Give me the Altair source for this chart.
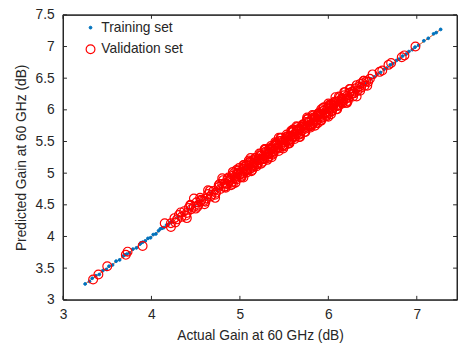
import altair as alt
import pandas as pd

# ---- Validation set (actual, predicted) ----
val_actual = [
    3.34, 3.40, 3.50, 3.71, 3.73, 3.90, 4.15, 4.22, 4.22,
    4.26, 4.29, 4.31, 4.34, 4.37, 4.40, 4.42, 4.45, 4.48, 4.51,
    4.53, 4.56, 4.59, 4.62, 4.64, 4.67, 4.70, 4.73, 4.76, 4.78,
    4.27, 4.33, 4.39, 4.44, 4.50, 4.55, 4.61, 4.66, 4.72, 4.77,
    4.80, 4.82, 4.83, 4.85, 4.86, 4.88, 4.89, 4.91, 4.92, 4.94,
    4.95, 4.97, 4.98, 5.00, 5.01, 5.03, 5.04, 5.06, 5.07, 5.09,
    5.10, 5.12, 5.13, 5.15, 5.16, 5.18, 5.19, 5.21, 5.22, 5.24,
    5.25, 5.27, 5.28, 5.30, 5.31, 5.33, 5.34, 5.36, 5.37, 5.39,
    5.40, 5.42, 5.43, 5.45, 5.46, 5.48, 5.49, 5.51, 5.52, 5.54,
    5.55, 5.57, 5.58, 5.60, 5.61, 5.63, 5.64, 5.66, 5.67, 5.69,
    5.70, 5.72, 5.73, 5.75, 5.76, 5.78, 5.79, 5.81, 5.82, 5.84,
    5.85, 5.87, 5.88, 5.90, 5.91, 5.93, 5.94, 5.96, 5.97, 5.99,
    6.00, 6.02, 6.03, 6.05, 6.06, 6.08, 6.09, 6.11, 6.12, 6.14,
    6.15, 6.17, 6.18, 6.20, 6.21, 6.23, 6.24, 6.26, 6.27, 6.29,
    4.81, 4.84, 4.87, 4.90, 4.93, 4.96, 4.99, 5.02, 5.05, 5.08,
    5.11, 5.14, 5.17, 5.20, 5.23, 5.26, 5.29, 5.32, 5.35, 5.38,
    5.41, 5.44, 5.47, 5.50, 5.53, 5.56, 5.59, 5.62, 5.65, 5.68,
    5.71, 5.74, 5.77, 5.80, 5.83, 5.86, 5.89, 5.92, 5.95, 5.98,
    6.01, 6.04, 6.07, 6.10, 6.13, 6.16, 6.19, 6.22, 6.25, 6.28,
    5.02, 5.05, 5.08, 5.11, 5.14, 5.17, 5.20, 5.23, 5.26, 5.29,
    5.32, 5.35, 5.38, 5.41, 5.44, 5.47, 5.50, 5.53, 5.56, 5.59,
    5.62, 5.65, 5.68, 5.71, 5.74, 5.77, 5.80, 5.83, 5.86, 5.89,
    5.92, 5.95, 5.98, 6.01, 6.04, 6.07, 6.10,
    4.92, 4.95, 4.98, 5.01, 5.04, 5.07, 5.10, 5.13, 5.16, 5.19,
    5.22, 5.25, 5.28, 5.31, 5.34, 5.37, 5.40, 5.43, 5.46, 5.49,
    5.52, 5.55, 5.58, 5.61, 5.64, 5.67, 5.70, 5.73, 5.76, 5.79,
    5.82, 5.85, 5.88, 5.91, 5.94, 5.97, 6.00, 6.03, 6.06, 6.09,
    6.12, 6.15, 6.18, 6.21,
    4.40, 4.44, 4.48, 4.52, 4.56, 4.60, 4.64, 4.68, 4.72, 4.76,
    4.80, 4.84, 4.88, 4.92, 4.96, 5.00, 5.04, 5.08, 5.12, 5.16,
    5.20, 5.24, 5.28, 5.32, 5.36, 5.40, 5.44, 5.48, 5.52, 5.56,
    5.60, 5.64, 5.68, 5.72, 5.76, 5.80, 5.84, 5.88, 5.92, 5.96,
    6.00, 6.04, 6.08, 6.12, 6.16, 6.20, 6.24, 6.28, 6.32, 6.36,
    6.40,
    6.31, 6.33, 6.35, 6.37, 6.39, 6.41, 6.43, 6.45,
    6.32, 6.36, 6.40, 6.44,
    6.47, 6.50, 6.58, 6.61, 6.68, 6.71, 6.83, 6.86, 6.985,
]
val_pred = [
    3.32, 3.40, 3.53, 3.71, 3.76, 3.85, 4.21, 4.15, 4.21,
    4.29, 4.27, 4.34, 4.31, 4.40, 4.37, 4.45, 4.43, 4.47, 4.54,
    4.50, 4.58, 4.56, 4.60, 4.67, 4.63, 4.72, 4.69, 4.78, 4.75,
    4.22, 4.38, 4.33, 4.50, 4.44, 4.61, 4.55, 4.72, 4.66, 4.83,
    4.83, 4.78, 4.84, 4.83, 4.91, 4.87, 4.91, 4.86, 4.96, 4.94,
    4.92, 4.99, 5.04, 4.98, 5.02, 4.99, 5.07, 5.05, 5.12, 5.06,
    5.12, 5.07, 5.17, 5.13, 5.17, 5.24, 5.15, 5.23, 5.21, 5.28,
    5.22, 5.28, 5.23, 5.33, 5.31, 5.38, 5.32, 5.38, 5.33, 5.43,
    5.39, 5.45, 5.40, 5.51, 5.44, 5.49, 5.44, 5.54, 5.51, 5.58,
    5.52, 5.59, 5.54, 5.65, 5.61, 5.61, 5.67, 5.61, 5.68, 5.73,
    5.67, 5.74, 5.72, 5.81, 5.72, 5.80, 5.77, 5.85, 5.77, 5.85,
    5.88, 5.84, 5.93, 5.89, 5.93, 5.89, 5.98, 5.96, 5.95, 6.02,
    5.95, 6.04, 6.08, 6.02, 6.07, 6.06, 6.13, 6.07, 6.14, 6.13,
    6.18, 6.14, 6.23, 6.18, 6.22, 6.19, 6.27, 6.25, 6.29, 6.26,
    4.89, 4.77, 4.93, 4.81, 5.00, 4.90, 5.08, 4.94, 5.13, 5.01,
    5.17, 5.05, 5.24, 5.14, 5.30, 5.18, 5.38, 5.24, 5.43, 5.31,
    5.47, 5.35, 5.56, 5.42, 5.61, 5.50, 5.65, 5.54, 5.73, 5.61,
    5.77, 5.65, 5.86, 5.72, 5.91, 5.79, 5.95, 5.83, 6.04, 5.90,
    6.08, 5.98, 6.13, 6.01, 6.20, 6.10, 6.28, 6.14, 6.33, 6.21,
    4.96, 5.10, 5.04, 5.18, 5.09, 5.21, 5.14, 5.28, 5.22, 5.34,
    5.26, 5.40, 5.34, 5.48, 5.39, 5.51, 5.44, 5.58, 5.52, 5.66,
    5.57, 5.69, 5.62, 5.76, 5.70, 5.81, 5.74, 5.88, 5.82, 5.94,
    5.87, 5.99, 5.92, 6.06, 5.98, 6.11, 6.06,
    5.02, 4.85, 5.01, 4.93, 5.13, 5.04, 5.20, 5.03, 5.19, 5.11,
    5.31, 5.22, 5.38, 5.21, 5.37, 5.29, 5.49, 5.40, 5.56, 5.39,
    5.55, 5.47, 5.67, 5.58, 5.74, 5.57, 5.73, 5.65, 5.85, 5.76,
    5.92, 5.75, 5.91, 5.83, 6.03, 5.94, 6.10, 5.93, 6.09, 6.01,
    6.21, 6.12, 6.28, 6.11,
    4.29, 4.49, 4.60, 4.47, 4.56, 4.51, 4.73, 4.66, 4.61, 4.81,
    4.92, 4.79, 4.88, 4.83, 5.05, 4.98, 4.93, 5.13, 5.24, 5.11,
    5.20, 5.15, 5.37, 5.30, 5.25, 5.45, 5.56, 5.43, 5.52, 5.47,
    5.69, 5.62, 5.57, 5.77, 5.88, 5.75, 5.84, 5.79, 6.01, 5.94,
    5.89, 6.09, 6.20, 6.07, 6.16, 6.11, 6.33, 6.26, 6.21, 6.41,
    6.46,
    6.34, 6.30, 6.37, 6.35, 6.42, 6.38, 6.45, 6.44,
    6.39, 6.30, 6.46, 6.38,
    6.49, 6.56, 6.60, 6.62, 6.71, 6.74, 6.83, 6.86, 7.00,
]

# ---- Training set (actual, predicted) ----
train_actual = [
    3.25, 3.30, 3.33, 3.37, 3.41, 3.45, 3.49, 3.52, 3.56, 3.60,
    3.64, 3.68, 3.70, 3.72, 3.75, 3.79, 3.83, 3.87, 3.88, 3.90,
    3.93, 3.96, 3.99, 4.02, 4.05, 4.08, 4.10, 4.12, 4.14, 4.17,
    4.19, 4.21, 4.23, 4.30, 4.36, 4.42, 4.49, 4.55, 4.61, 4.68,
    4.74, 4.80, 4.87, 4.93, 5.00, 5.06, 5.13, 5.19, 5.26, 5.32,
    5.39, 5.45, 5.52, 5.58, 5.65, 5.71, 5.78, 5.84, 5.91, 5.97,
    6.04, 6.10, 6.17, 6.23, 6.30, 6.36, 6.42, 6.48, 6.52, 6.55,
    6.59, 6.63, 6.66, 6.70, 6.73, 6.77, 6.80, 6.84, 6.88, 6.91,
    6.95, 6.98, 7.02, 7.08, 7.13, 7.19, 7.22, 7.27,
]
train_pred = [
    3.25, 3.29, 3.34, 3.38, 3.40, 3.46, 3.48, 3.53, 3.55, 3.61,
    3.63, 3.69, 3.71, 3.72, 3.74, 3.80, 3.82, 3.88, 3.90, 3.91,
    3.93, 3.97, 3.98, 4.03, 4.04, 4.09, 4.12, 4.13, 4.14, 4.18,
    4.19, 4.22, 4.23, 4.31, 4.35, 4.43, 4.48, 4.56, 4.60, 4.69,
    4.73, 4.81, 4.86, 4.94, 4.99, 5.07, 5.12, 5.20, 5.25, 5.33,
    5.38, 5.46, 5.51, 5.59, 5.64, 5.72, 5.77, 5.85, 5.90, 5.98,
    6.03, 6.11, 6.16, 6.24, 6.29, 6.37, 6.41, 6.49, 6.52, 6.56,
    6.59, 6.64, 6.66, 6.71, 6.73, 6.78, 6.80, 6.85, 6.88, 6.92,
    6.95, 6.99, 7.02, 7.09, 7.13, 7.20, 7.22, 7.27,
]

fit_x = [3.25, 7.27]
x_ticks = [3, 4, 5, 6, 7]
y_ticks = [3, 3.5, 4, 4.5, 5, 5.5, 6, 6.5, 7, 7.5]
sets = ["Training set", "Validation set"]

W, H = 401, 290
DARK = "#262626"
FONT = "Liberation Sans"

pts = pd.DataFrame({"actual": train_actual, "pred": train_pred, "set": sets[0]})
pts = pd.concat(
    [pts, pd.DataFrame({"actual": val_actual, "pred": val_pred, "set": sets[1]})],
    ignore_index=True,
)
pts["ord"] = range(len(pts))

xs = alt.Scale(domain=[3, 7.455], nice=False, zero=False)
ys = alt.Scale(domain=[3, 7.5], nice=False, zero=False)

xaxis = alt.Axis(values=x_ticks, ticks=False, grid=False, labelPadding=8,
                 labelFlush=False, format="~g", domain=False,
                 labelOverlap=False,
                 title="Actual Gain at 60 GHz (dB)", titlePadding=7)
yaxis = alt.Axis(values=y_ticks, ticks=False, grid=False, labelPadding=9,
                 labelFlush=False, format="~g", domain=False,
                 labelOverlap=False,
                 title="Predicted Gain at 60 GHz (dB)", titlePadding=7)


def leg():
    return alt.Legend(title=None, orient="none", legendX=21, legendY=6,
                      labelFontSize=14, labelFont=FONT, labelColor=DARK,
                      labelOffset=4, rowPadding=8, padding=0, symbolStrokeWidth=1)


def X(f):
    return alt.X(f, scale=xs, axis=xaxis)


def Y(f):
    return alt.Y(f, scale=ys, axis=yaxis)


fit = alt.Chart(pd.DataFrame({"a": fit_x, "b": fit_x})).mark_line(
    color="#D95319", strokeWidth=1
).encode(x=X("a:Q"), y=Y("b:Q"))

points = alt.Chart(pts).mark_point(filled=False, opacity=1).encode(
    x=X("actual:Q"),
    y=Y("pred:Q"),
    color=alt.Color("set:N", scale=alt.Scale(domain=sets, range=["#0072BD", "#FF0000"]),
                    legend=leg()),
    fill=alt.Fill("set:N", scale=alt.Scale(domain=sets, range=["#0072BD", "transparent"]),
                  legend=leg()),
    size=alt.Size("set:N", scale=alt.Scale(domain=sets, range=[8, 80]), legend=leg()),
    strokeWidth=alt.StrokeWidth("set:N", scale=alt.Scale(domain=sets, range=[1, 1.2]),
                                legend=None),
    order=alt.Order("ord:Q"),
)

xt = pd.DataFrame({"t": x_ticks})
yt = pd.DataFrame({"t": y_ticks})
tb = alt.Chart(xt).mark_rule(color=DARK, strokeWidth=1).encode(
    x=X("t:Q"), y=alt.value(H), y2=alt.value(H - 4))
tt = alt.Chart(xt).mark_rule(color=DARK, strokeWidth=1).encode(
    x=X("t:Q"), y=alt.value(0), y2=alt.value(4))
tl = alt.Chart(yt).mark_rule(color=DARK, strokeWidth=1).encode(
    y=Y("t:Q"), x=alt.value(0), x2=alt.value(4))
tr = alt.Chart(yt).mark_rule(color=DARK, strokeWidth=1).encode(
    y=Y("t:Q"), x=alt.value(W), x2=alt.value(W - 4))

frame = alt.Chart(pd.DataFrame({"k": [0]})).mark_rect(
    filled=False, stroke=DARK, strokeWidth=1
).encode(x=alt.value(0), x2=alt.value(W), y=alt.value(0), y2=alt.value(H))

chart = alt.layer(fit, points, tb, tt, tl, tr, frame).properties(
    width=W, height=H,
    autosize=alt.AutoSizeParams(type="none"),
    padding={"left": 56, "top": 4, "right": 1, "bottom": 42},
).configure_view(stroke=DARK, strokeWidth=1).configure_axis(
    labelColor=DARK, titleColor=DARK,
    labelFont=FONT, titleFont=FONT,
    labelFontSize=14, titleFontSize=14, titleFontWeight="normal",
).configure_legend(symbolType="circle")

chart.save("out.html", embed_options={"renderer": "svg", "actions": False})
